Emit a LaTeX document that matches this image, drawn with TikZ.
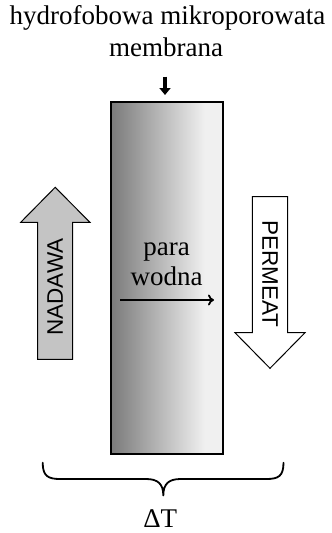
\documentclass[tikz,border=0pt]{standalone}
\usepackage{fontspec}
\setmainfont{Liberation Serif}
\setsansfont{Liberation Sans}
\usetikzlibrary{arrows.meta}
\definecolor{feedgray}{HTML}{C4C4C4}
\definecolor{memdark}{HTML}{7A7A7A}
\definecolor{memlight}{HTML}{F0F0F0}
\pgfdeclarehorizontalshading{memshade}{100bp}{color(0bp)=(memdark); color(25bp)=(memdark); color(67bp)=(memlight); color(100bp)=(memlight)}
\tikzset{
  serifbig/.style={font=\fontsize{27}{32}\selectfont, inner sep=0pt},
  sanslabel/.style={font=\sffamily\fontsize{22.5}{26}\selectfont, inner sep=0pt},
  flowarrow/.style={draw=black, line width=1pt, line join=miter},
  membranebox/.style={draw=black, line width=1.8pt, shading=memshade},
}
\begin{document}
\begin{tikzpicture}[x=1pt,y=-1pt]
\useasboundingbox (0,0) rectangle (332,533);
% title
\node[serifbig, anchor=base] (t1) at (167.5,24) {hydrofobowa mikroporowata};
\node[serifbig, anchor=base] (t2) at (166,56.5) {membrana};
% membrane
\shade[membranebox] (110.7,102.2) rectangle (222.7,453.8);
\node[inner sep=0pt, minimum width=112pt, minimum height=351pt] (mem) at (166.7,278) {};
% small pointer arrow
\coordinate (ptop) at (165,76.5);
\coordinate (ptip) at (165,95);
\draw[line width=3.2pt, -{Triangle[width=11pt,length=7pt]}] (ptop) -- (ptip);
% feed arrow (NADAWA)
\draw[flowarrow, fill=feedgray] (37.7,359.3) -- (37.7,222.3) -- (20.7,222.3) -- (55.2,187.3) -- (89.9,222.3) -- (72.7,222.3) -- (72.7,359.3) -- cycle;
\node[sanslabel, rotate=90] (feed) at (55.2,287) {NADAWA};
% permeate arrow (PERMEAT)
\draw[flowarrow, fill=white] (252.3,196.7) -- (252.3,332.7) -- (235,332.7) -- (270,368.3) -- (305,332.7) -- (287.7,332.7) -- (287.7,196.7) -- cycle;
\node[sanslabel, rotate=-90] (perm) at (270,273.7) {PERMEAT};
% water vapour
\node[serifbig, anchor=base] (para) at (166.5,255) {para};
\node[serifbig, anchor=base] (wodna) at (166.5,285.7) {wodna};
\coordinate (va) at (120,300);
\coordinate (vb) at (214,300);
\draw[line width=1.8pt, -{To[length=6pt,width=11pt]}] (va) -- (vb);
% brace
\coordinate (bl) at (42.7,462.7);
\coordinate (br) at (283.5,462.7);
\coordinate (btip) at (163.3,495.5);
\draw[line width=1.8pt, line cap=round, line join=round]
  (bl) .. controls (42.7,476) and (48,479) .. (60,479) -- (146,479)
  .. controls (158,479) and (163.3,484) .. (btip)
  .. controls (163.3,484) and (168.6,479) .. (180.6,479) -- (266.5,479)
  .. controls (278.5,479) and (283.5,476) .. (br);
\node[serifbig, anchor=base] (dT) at (160.3,527) {ΔT};
\end{tikzpicture}
\end{document}
